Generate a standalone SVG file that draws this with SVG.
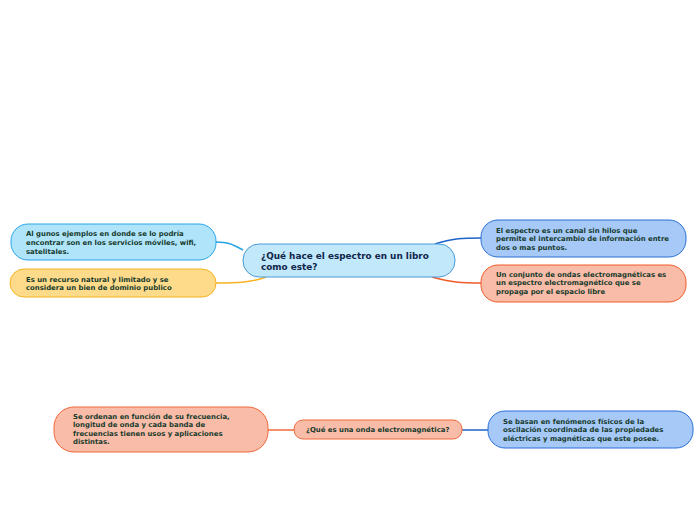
<svg xmlns="http://www.w3.org/2000/svg" width="696" height="520" viewBox="0 0 696 520">
<style>
.t{font-family:"DejaVu Sans","Verdana",sans-serif;font-weight:bold;font-size:6.9px;fill:#163a2c}
.c{font-family:"DejaVu Sans","Verdana",sans-serif;font-weight:bold;font-size:8.9px;fill:#10264a}
.e{fill:none;stroke-width:1.5}
</style>
<rect width="696" height="520" fill="#ffffff"/>
<g id="connectors">
<path class="e" d="M243,250 C232,244 228,242 216,242" stroke="#27a4e8"/>
<path class="e" d="M266,277 C250,283 235,283 216,283" stroke="#f5b321"/>
<path class="e" d="M435,244 C455,238 462,238 481,238" stroke="#1e63c8"/>
<path class="e" d="M432,277 C455,283 462,283 481,283" stroke="#f05a28"/>
<path class="e" d="M268,430 L294,430" stroke="#f0683a"/>
<path class="e" d="M462,430 L488,430" stroke="#1e63c8"/>
</g>
<g id="n-central">
<rect x="243" y="244" width="212" height="33" rx="16" fill="#c2e8fb" stroke="#4a9ad6"/>
<text class="c" x="261" y="259">¿Qué hace el espectro en un libro</text>
<text class="c" x="261" y="270">como este?</text>
</g>
<g id="n-left1">
<rect x="11" y="224" width="205" height="36" rx="17" fill="#b0e4fb" stroke="#27a4e8"/>
<text class="t" x="26" y="236">Al gunos ejemplos en donde se lo podría</text>
<text class="t" x="26" y="245">encontrar son en los servicios móviles, wifi,</text>
<text class="t" x="26" y="254">satelitales.</text>
</g>
<g id="n-left2">
<rect x="10" y="269" width="206" height="28" rx="14" fill="#fddb8a" stroke="#f5b321"/>
<text class="t" x="26" y="282">Es un recurso natural y limitado y se</text>
<text class="t" x="26" y="290">considera un bien de dominio publico</text>
</g>
<g id="n-right1">
<rect x="481" y="220" width="205" height="37" rx="17" fill="#a6c9f8" stroke="#2a6fd6"/>
<text class="t" x="496" y="233">El espectro es un canal sin hilos que</text>
<text class="t" x="496" y="241">permite el intercambio de información entre</text>
<text class="t" x="496" y="250">dos o mas puntos.</text>
</g>
<g id="n-right2">
<rect x="481" y="265" width="205" height="37" rx="17" fill="#f9bca8" stroke="#f05a28"/>
<text class="t" x="496" y="277">Un conjunto de ondas electromagnéticas es</text>
<text class="t" x="496" y="285">un espectro electromagnético que se</text>
<text class="t" x="496" y="294">propaga por el espacio libre</text>
</g>
<g id="n-onda">
<rect x="294" y="420" width="168" height="19" rx="9" fill="#f9bca8" stroke="#f0683a"/>
<text class="t" x="306" y="432">¿Qué es una onda electromagnética?</text>
</g>
<g id="n-ordenan">
<rect x="54" y="407" width="214" height="45" rx="20" fill="#f9bca8" stroke="#f0683a"/>
<text class="t" x="73" y="419">Se ordenan en función de su frecuencia,</text>
<text class="t" x="73" y="427">longitud de onda y cada banda de</text>
<text class="t" x="73" y="436">frecuencias tienen usos y aplicaciones</text>
<text class="t" x="73" y="444">distintas.</text>
</g>
<g id="n-basan">
<rect x="488" y="411" width="205" height="37" rx="17" fill="#a6c9f8" stroke="#2a6fd6"/>
<text class="t" x="503" y="424">Se basan en fenómenos físicos de la</text>
<text class="t" x="503" y="432">oscilación coordinada de las propiedades</text>
<text class="t" x="503" y="441">eléctricas y magnéticas que este posee.</text>
</g>
</svg>
